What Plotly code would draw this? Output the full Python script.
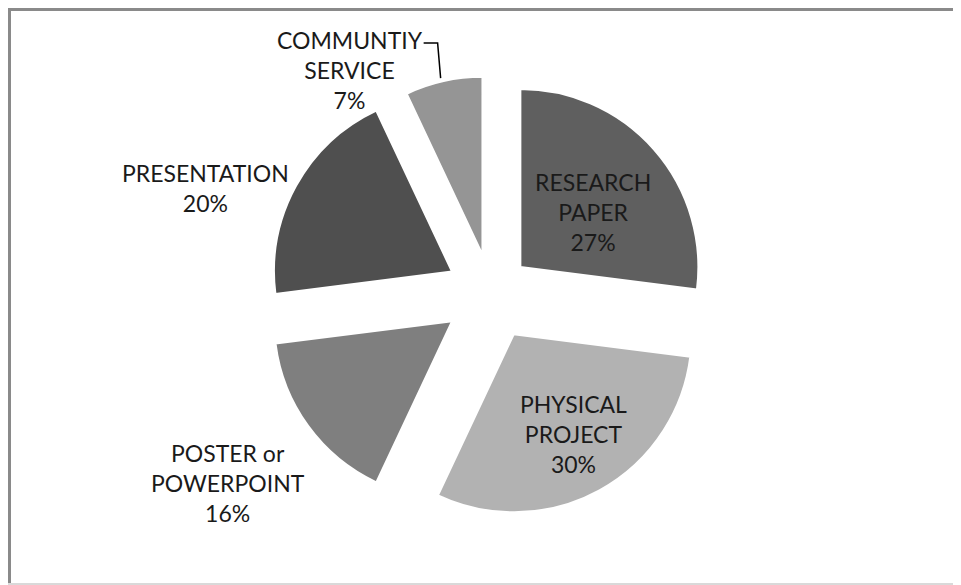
import math
import plotly.graph_objects as go

categories = ["RESEARCH PAPER", "PHYSICAL PROJECT", "POSTER or POWERPOINT", "PRESENTATION", "COMMUNTIY SERVICE"]
label_lines = ["RESEARCH<br>PAPER", "PHYSICAL<br>PROJECT", "POSTER or<br>POWERPOINT", "PRESENTATION", "COMMUNTIY<br>SERVICE"]
values = [27, 30, 16, 20, 7]
colors = ["#5f5f5f", "#b2b2b2", "#7f7f7f", "#4f4f4f", "#959595"]
pulls = [0.22, 0.265, 0.27, 0.25, 0.22]

W, H = 961, 585
OFF = 8  # page body margin offset
FONT = "Lato, sans-serif"
FSIZE = 23
TXT = "#1a1a1a"

# label block centres (figure pixels), layout only
label_xy = [(585, 204), (565, 426), (220, 475), (197, 180), (342, 62)]

r = 178
cx, cy = 491 - OFF, 293 - OFF
half = r * (1 + max(pulls))

fig = go.Figure(go.Pie(
    labels=categories,
    values=values,
    textinfo="none",
    sort=False,
    direction="clockwise",
    rotation=0,
    pull=pulls,
    automargin=False,
    marker=dict(colors=colors, line=dict(color="white", width=2)),
    showlegend=False,
    domain=dict(x=[(cx - half) / W, (cx + half) / W],
                y=[1 - (cy + half) / H, 1 - (cy - half) / H]),
))

for (lx, ly), lab, v in zip(label_xy, label_lines, values):
    fig.add_annotation(
        x=lx / W, y=1 - ly / H, xref="paper", yref="paper",
        text=f"{lab}<br>{v}%", showarrow=False,
        xanchor="center", yanchor="middle", align="center",
        font=dict(family=FONT, size=FSIZE, color=TXT),
    )

# leader line to the mid-point of the community slice's arc
total = sum(values)
start = sum(values[:4]) / total * 360
mid = math.radians(start + values[4] / total * 360 / 2)
tx = cx + r * (1 + pulls[4]) * math.sin(mid)
ty = cy - r * (1 + pulls[4]) * math.cos(mid)

def P(x, y):
    return f"{x / W:.5f},{1 - y / H:.5f}"

leader = f"M {P(tx - 20, ty - 38)} L {P(tx - 6, ty - 38)} L {P(tx - 3, ty - 3)}"

fig.update_layout(
    width=W, height=H,
    margin=dict(l=0, r=0, t=0, b=0, autoexpand=False),
    paper_bgcolor="white",
    plot_bgcolor="white",
    font=dict(family=FONT),
    shapes=[
        dict(type="line", xref="paper", yref="paper", x0=0, x1=1.0, y0=1 - 1.5 / H, y1=1 - 1.5 / H,
             line=dict(color="#8a8a8a", width=3)),
        dict(type="line", xref="paper", yref="paper", x0=1.5 / W, x1=1.5 / W, y0=1, y1=0,
             line=dict(color="#8a8a8a", width=3)),
        dict(type="line", xref="paper", yref="paper", x0=0, x1=1.0, y0=1 - 576 / H, y1=1 - 576 / H,
             line=dict(color="#d9d9d9", width=2)),
        dict(type="path", xref="paper", yref="paper", path=leader,
             line=dict(color="#000000", width=1.5)),
    ],
)

fig.write_html("out.html")
